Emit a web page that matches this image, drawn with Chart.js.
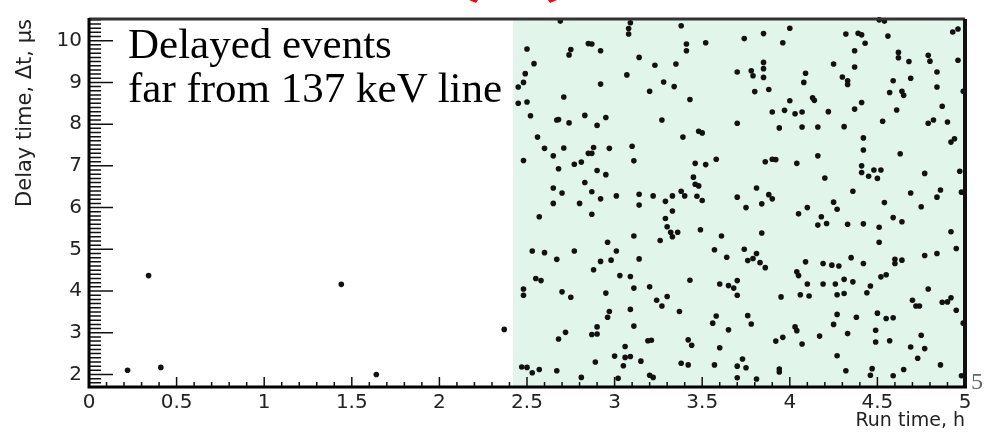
<!DOCTYPE html>
<html>
<head>
<meta charset="utf-8">
<script src="https://cdn.jsdelivr.net/npm/chart.js@4"></script>
<style>
html, body { margin: 0; padding: 0; background: #fff; }
#wrap { position: relative; width: 990px; height: 432px; }
.note { position: absolute; left: 128px; top: 22px; font-family: "Liberation Serif", serif; font-size: 43px; line-height: 44px; color: #000; white-space: nowrap; }
.pg { position: absolute; left: 971px; top: 368px; font-family: "Liberation Serif", serif; font-size: 24px; color: #666; }
</style>
</head>
<body>
<div id="wrap">
  <canvas id="c" width="990" height="432"></canvas>
  <div class="note">Delayed events<br>far from 137 keV line</div>
  <div class="pg">5</div>
</div>
<script>
// run time (h) of each delayed event
let runTime = [
  0.22, 0.34, 0.41, 1.44, 1.64, 2.37,
  2.69, 3.09, 3.08, 3.08, 2.50, 2.75, 2.74, 2.85, 2.87, 2.92, 3.14, 3.23, 2.54, 2.49, 2.48, 2.45, 3.07, 2.92, 3.20, 2.71, 2.45, 2.50, 2.52, 2.67, 2.68, 2.74, 2.83, 2.95, 2.90,
  3.38, 4.00, 3.85, 3.74, 3.96, 3.41, 3.41, 3.52, 3.35, 3.85, 3.85, 3.70, 3.78, 3.79, 3.85, 4.09, 4.08, 3.28, 3.34, 3.80, 3.88, 3.43, 4.00, 3.90, 3.97, 4.03, 4.07, 3.27, 3.70, 3.94, 4.07, 3.48, 3.50,
  4.51, 4.54, 4.93, 4.96, 4.32, 4.39, 4.41, 4.56, 4.43, 4.37, 4.62, 4.62, 4.68, 4.79, 4.80, 4.96, 4.25, 4.37, 4.84, 4.30, 4.33, 4.33, 4.59, 4.69, 4.84, 4.57, 4.64, 4.65, 4.99, 4.13, 4.14, 4.41, 4.37, 4.22, 4.61, 4.87, 4.16, 4.31, 4.53, 4.79, 4.82, 4.90,
  2.56, 2.60, 2.71, 2.65, 2.48, 2.85, 2.87, 2.88, 2.97, 3.10, 3.11, 2.68, 2.77, 2.81, 2.90, 2.95, 2.83, 2.65, 2.70, 2.87, 2.92, 3.01, 3.14, 3.22, 2.65, 2.80, 3.14, 2.57, 2.87, 3.11, 2.96, 2.53, 2.60, 2.77, 3.01, 2.67, 2.92, 2.98, 3.14,
  3.39, 3.58, 3.46, 3.52, 3.86, 3.90, 3.92, 4.04, 3.45, 3.46, 3.48, 3.33, 3.38, 3.40, 3.47, 3.50, 3.29, 3.33, 3.29, 3.30, 3.32, 3.33, 3.36, 3.26, 3.49, 3.61, 3.57, 3.64, 3.70, 3.75, 3.81, 3.84, 3.88, 3.90, 3.84, 3.74, 3.81, 3.76, 3.79, 4.05,
  4.42, 4.92, 4.94, 4.42, 4.16, 4.63, 4.41, 4.41, 4.48, 4.52, 4.45, 4.50, 4.20, 4.77, 4.97, 4.36, 4.69, 4.86, 4.84, 4.98, 4.54, 4.10, 4.25, 4.27, 4.75, 4.18, 4.16, 4.21, 4.33, 4.42, 4.51, 4.59, 4.64, 4.92, 4.51, 4.95, 4.35, 4.77, 4.84, 4.09, 4.60, 4.64,
  2.88, 3.03, 3.09, 2.55, 2.58, 2.48, 2.48, 2.70, 2.75, 2.95, 3.11, 3.20, 3.09, 2.97, 2.96, 2.90, 2.87, 2.90, 2.72, 2.68, 3.11, 3.19, 3.21, 3.06, 3.00, 3.06, 3.09, 3.15, 2.89, 3.05, 2.47, 2.50, 2.57, 2.53, 2.67, 2.81, 3.02, 3.20, 3.22,
  3.86, 3.83, 4.04, 4.05, 3.43, 3.60, 3.65, 3.68, 3.70, 3.70, 3.24, 3.27, 3.30, 3.37, 3.95, 4.06, 3.58, 3.56, 3.76, 3.78, 3.65, 4.03, 4.04, 3.42, 3.44, 3.92, 3.96, 3.60, 4.07, 3.73, 3.38, 3.42, 3.57, 3.70, 3.75, 3.94, 3.94, 3.70, 3.81,
  4.19, 4.24, 4.28, 4.42, 4.60, 4.10, 4.19, 4.26, 4.31, 4.36, 4.52, 4.55, 4.46, 4.11, 4.27, 4.31, 4.44, 4.79, 4.70, 4.72, 4.74, 4.87, 4.90, 4.92, 4.95, 4.99, 4.27, 4.38, 4.50, 4.55, 4.59, 4.25, 4.33, 4.17, 4.49, 4.49, 4.57, 4.75, 4.69, 4.77, 4.27, 4.73, 4.86, 4.32, 4.47, 4.46, 4.59, 4.65, 4.98
];
// delay time (us) of each event, same order
let delayTime = [
  2.10, 4.37, 2.17, 4.16, 2.00, 3.08,
  10.47, 10.43, 10.29, 10.16, 9.80, 9.79, 9.66, 9.93, 9.92, 9.76, 9.60, 9.41, 9.45, 9.21, 9.00, 8.89, 9.18, 8.96, 8.79, 8.65, 8.50, 8.53, 8.20, 8.10, 8.11, 8.03, 8.21, 8.16, 7.97,
  10.36, 10.30, 10.17, 10.05, 9.95, 9.92, 9.76, 9.95, 9.44, 9.48, 9.33, 9.25, 9.28, 9.16, 9.12, 9.22, 9.00, 9.01, 8.90, 8.78, 8.83, 8.59, 8.56, 8.29, 8.33, 8.25, 8.29, 8.10, 8.02, 7.91, 7.93, 7.83, 7.79,
  10.50, 10.47, 10.21, 10.28, 10.16, 10.18, 10.14, 10.11, 9.94, 9.76, 9.72, 9.59, 9.50, 9.65, 9.51, 9.53, 9.44, 9.37, 9.25, 9.13, 9.04, 8.95, 9.04, 9.10, 8.89, 8.76, 8.79, 8.69, 8.79, 8.63, 8.57, 8.52, 8.36, 8.30, 8.34, 8.43, 7.93, 7.94, 8.07, 8.02, 8.10, 8.05,
  7.69, 7.42, 7.43, 7.24, 7.13, 7.30, 7.30, 7.44, 7.42, 7.47, 7.12, 6.93, 7.04, 7.09, 6.89, 6.79, 6.60, 6.47, 6.35, 6.38, 6.21, 6.28, 6.32, 6.28, 6.10, 6.10, 6.06, 5.78, 5.84, 5.32, 5.17, 4.96, 4.92, 4.96, 4.96, 4.76, 4.71, 4.74, 4.77,
  7.69, 7.16, 7.06, 7.03, 7.10, 7.16, 7.15, 7.06, 6.73, 6.56, 6.52, 6.28, 6.39, 6.28, 6.27, 6.17, 6.15, 5.92, 5.74, 5.54, 5.41, 5.30, 5.41, 5.21, 5.47, 5.32, 4.99, 4.81, 6.25, 6.00, 6.47, 6.09, 6.31, 6.21, 5.39, 5.00, 4.90, 4.73, 4.78, 5.85,
  7.67, 7.57, 7.65, 7.38, 7.24, 7.29, 7.00, 6.84, 6.90, 6.90, 6.75, 6.70, 6.71, 6.82, 6.87, 6.39, 6.35, 6.42, 6.25, 6.37, 6.12, 6.00, 6.13, 5.96, 6.02, 5.78, 5.58, 5.62, 5.60, 5.61, 5.53, 5.76, 5.66, 5.42, 5.17, 5.02, 4.80, 4.85, 4.90, 4.70, 4.76, 4.74,
  4.51, 4.37, 4.35, 4.30, 4.25, 4.05, 3.90, 3.98, 3.85, 3.95, 4.07, 4.10, 3.56, 3.51, 3.37, 3.14, 2.96, 2.97, 3.01, 2.85, 3.16, 2.81, 2.82, 2.67, 2.44, 2.41, 2.43, 2.32, 2.30, 2.21, 2.18, 2.17, 2.12, 2.04, 2.09, 1.93, 1.91, 1.98, 1.93,
  4.56, 4.68, 4.46, 4.37, 4.26, 4.17, 4.13, 4.07, 4.25, 3.90, 3.78, 3.64, 3.87, 3.51, 3.86, 3.91, 3.40, 3.23, 3.41, 3.21, 3.07, 3.14, 3.05, 2.83, 2.70, 2.80, 2.89, 2.64, 2.73, 2.37, 2.27, 2.23, 2.23, 2.20, 2.16, 2.13, 2.06, 1.92, 1.89,
  4.66, 4.62, 4.60, 4.66, 4.66, 4.17, 4.17, 4.17, 4.28, 4.22, 4.34, 4.39, 4.12, 3.88, 3.91, 3.94, 3.96, 4.05, 3.78, 3.64, 3.64, 3.73, 3.74, 3.84, 3.54, 3.23, 3.44, 3.37, 3.47, 3.34, 3.36, 3.20, 2.98, 2.92, 3.06, 2.78, 2.81, 2.94, 2.66, 2.62, 2.45, 2.39, 2.23, 2.09, 2.14, 1.98, 1.97, 2.12, 1.97
];
let xTicks = [0, 0.5, 1, 1.5, 2, 2.5, 3, 3.5, 4, 4.5, 5];
let yTicks = [2, 3, 4, 5, 6, 7, 8, 9, 10];
let shadeFrom = 2.42; // start of the shaded run period

let points = runTime.map(function(x, i) { return {x: x, y: delayTime[i]}; });

const sans = 'DejaVu Sans, sans-serif';

const framePlugin = {
    id: 'frame',
    beforeDatasetsDraw(chart) {
        const {ctx, chartArea: a, scales: {x, y}} = chart;
        const x0 = x.getPixelForValue(shadeFrom);
        ctx.save();
        ctx.fillStyle = '#e2f5ea';
        ctx.fillRect(x0, a.top, a.right - x0, a.bottom - a.top);
        // inward ticks
        ctx.strokeStyle = '#111';
        ctx.lineWidth = 1.5;
        ctx.beginPath();
        for (let i = 0; i <= 50; i++) {
            const px = x.getPixelForValue(i / 10);
            const len = i % 5 === 0 ? 10 : 5;
            ctx.moveTo(px, a.bottom);
            ctx.lineTo(px, a.bottom - len);
        }
        for (let v = 17; v <= 105; v++) {
            const py = y.getPixelForValue(v / 10);
            const len = v % 10 === 0 ? 24 : 12;
            ctx.moveTo(a.left, py);
            ctx.lineTo(a.left + len, py);
        }
        ctx.stroke();
        ctx.restore();
    },
    afterDatasetsDraw(chart) {
        const {ctx, chartArea: a} = chart;
        ctx.save();
        ctx.strokeStyle = '#333';
        ctx.lineWidth = 3;
        ctx.beginPath();
        ctx.moveTo(a.left, a.top);
        ctx.lineTo(a.right, a.top);
        ctx.stroke();
        ctx.strokeStyle = '#111';
        ctx.lineWidth = 4;
        ctx.beginPath();
        ctx.moveTo(a.right, a.top);
        ctx.lineTo(a.right, a.bottom);
        ctx.stroke();
        ctx.lineWidth = 3;
        ctx.strokeStyle = '#000';
        ctx.beginPath();
        ctx.moveTo(a.left, a.top - 1);
        ctx.lineTo(a.left, a.bottom);
        ctx.lineTo(a.right + 2, a.bottom);
        ctx.stroke();
        // red marks cut by the top edge
        ctx.fillStyle = '#e01010';
        ctx.beginPath();
        ctx.moveTo(469, 0); ctx.lineTo(478, 0); ctx.lineTo(476, 3); ctx.closePath();
        ctx.moveTo(548, 0); ctx.lineTo(557, 0); ctx.lineTo(550, 3); ctx.closePath();
        ctx.fill();
        ctx.restore();
    }
};

new Chart(document.getElementById('c'), {
    type: 'scatter',
    data: {
        datasets: [{
            data: points,
            backgroundColor: '#111',
            borderWidth: 0,
            pointRadius: 2.8,
            clip: false
        }]
    },
    options: {
        responsive: false,
        animation: false,
        layout: {padding: {left: 0, right: 25, top: 11, bottom: 0}},
        plugins: {legend: {display: false}, tooltip: {enabled: false}},
        scales: {
            x: {
                type: 'linear',
                min: 0,
                max: 5,
                afterBuildTicks: function(s) { s.ticks = xTicks.map(function(v) { return {value: v}; }); },
                afterFit: function(s) { s.height = 45; },
                grid: {display: false, drawTicks: false},
                border: {display: false},
                ticks: {
                    autoSkip: false,
                    maxRotation: 0,
                    padding: 4,
                    color: '#222',
                    font: {family: sans, size: 20},
                    callback: function(v) { return String(v); }
                },
                title: {
                    display: true,
                    text: 'Run time, h',
                    align: 'end',
                    color: '#222',
                    font: {family: sans, size: 19},
                    padding: {top: 0, bottom: 0}
                }
            },
            y: {
                type: 'linear',
                min: 1.7,
                max: 10.52,
                afterBuildTicks: function(s) { s.ticks = yTicks.map(function(v) { return {value: v}; }); },
                afterFit: function(s) { s.width = 89; },
                grid: {display: false, drawTicks: false},
                border: {display: false},
                ticks: {
                    padding: 7,
                    color: '#222',
                    font: {family: sans, size: 20},
                    callback: function(v) { return String(v); }
                },
                title: {
                    display: true,
                    text: 'Delay time, \u0394t, \u03bcs',
                    align: 'end',
                    color: '#222',
                    font: {family: sans, size: 21},
                    padding: {top: 13, bottom: 0}
                }
            }
        }
    },
    plugins: [framePlugin]
});
</script>
</body>
</html>
